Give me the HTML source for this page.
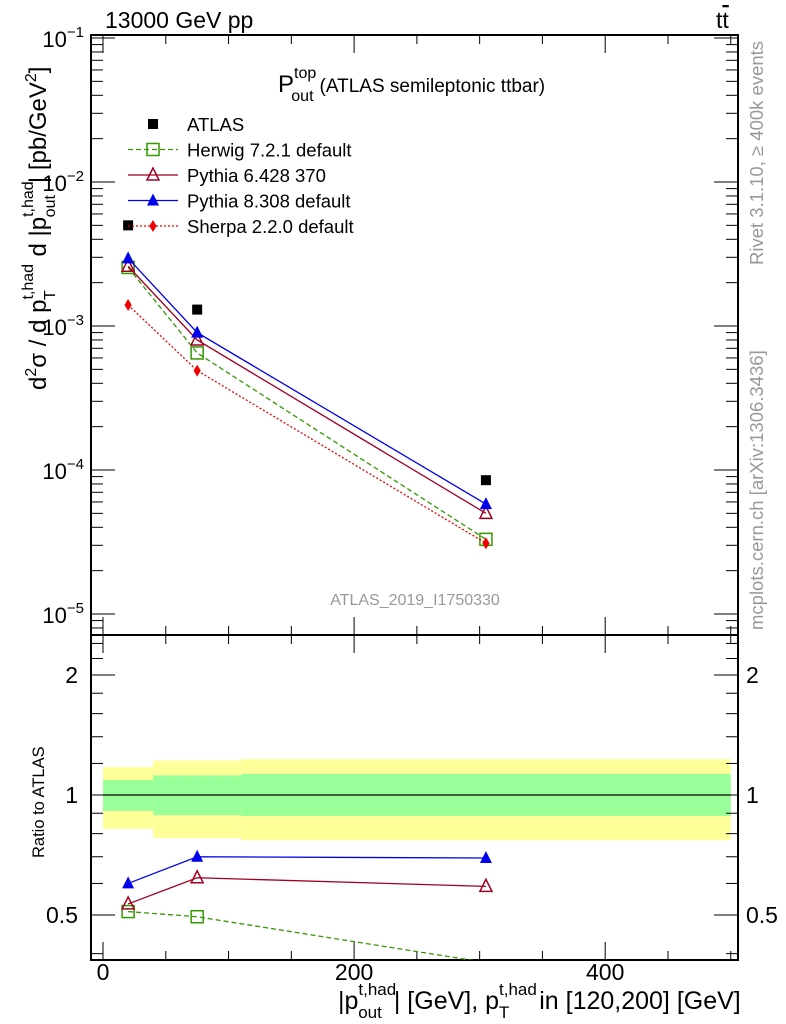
<!DOCTYPE html>
<html><head><meta charset="utf-8"><style>
body{margin:0;background:#fff;}
svg{font-family:"Liberation Sans",sans-serif;display:block}
</style></head><body>
<svg id="c" width="786" height="1024" xmlns="http://www.w3.org/2000/svg"></svg>
<script>
const binCenters=[20,75,305];
const binEdges=[0,40,110,500];
const atlas=[5.0e-3,1.3e-3,8.5e-5];
const herwig=[2.55e-3,6.5e-4,3.3e-5];
const pythia6=[2.6e-3,8.0e-4,5.0e-5];
const pythia8=[2.95e-3,9.0e-4,5.8e-5];
const sherpa=[1.4e-3,4.9e-4,3.1e-5];
const ratioHerwig=[0.51,0.495,0.38];
const ratioPythia6=[0.533,0.62,0.59];
const ratioPythia8=[0.60,0.70,0.695];
const bandYellowHi=[1.175,1.22,1.23];
const bandYellowLo=[0.822,0.78,0.77];
const bandGreenHi=[1.09,1.12,1.13];
const bandGreenLo=[0.912,0.89,0.886];
const xTicks=[0,200,400];
const yDecades=[-5,-4,-3,-2,-1];
const ratioTicks=[0.5,1,2];

const NS="http://www.w3.org/2000/svg";
const svg=document.getElementById('c');
const L=91,R=738,T=35,M=635,B=960;
const X=v=>103+v*1.2555;
const Y=v=>38-(Math.log10(v)+1)*144;
const YR=v=>795-Math.log2(v)*120;
function el(tag,a,parent){const e=document.createElementNS(NS,tag);for(const k in a)e.setAttribute(k,a[k]);(parent||svg).appendChild(e);return e;}
function txt(x,y,s,size,extra){const t=el('text',Object.assign({x:x,y:y,'font-size':size},extra||{}));t.innerHTML=s;return t;}

for(let i=0;i<3;i++){
 let r=el('rect',{x:X(binEdges[i]),y:YR(bandYellowHi[i]),width:X(binEdges[i+1])-X(binEdges[i]),height:YR(bandYellowLo[i])-YR(bandYellowHi[i]),fill:'#ffff99'});
 
 
 let g=el('rect',{x:X(binEdges[i]),y:YR(bandGreenHi[i]),width:X(binEdges[i+1])-X(binEdges[i]),height:YR(bandGreenLo[i])-YR(bandGreenHi[i]),fill:'#99ff99'});
 
 
}
el('line',{x1:X(0),x2:X(500),y1:YR(1),y2:YR(1),stroke:'#000','stroke-width':1.3});

el('rect',{x:L,y:T,width:R-L,height:M-T,fill:'none',stroke:'#000','stroke-width':2});
el('rect',{x:L,y:M,width:R-L,height:B-M,fill:'none',stroke:'#000','stroke-width':2});

for(let v=0;v<=500;v+=50){
 const big=v%200===0; const len=big?18:9;
 for(const [a,b] of [[T,1],[M,-1],[M,1],[B,-1]]){
  el('line',{x1:X(v),x2:X(v),y1:a,y2:a+b*len,stroke:'#000','stroke-width':1});
 }
}
xTicks.forEach(v=>{const t=txt(X(v),980,v,23,{'text-anchor':'middle'});
 
 });

yDecades.forEach(d=>{
 for(let m=1;m<10;m++){
  const v=m*Math.pow(10,d); if(v>0.1001)break;
  const y=Y(v); if(y>M||y<T)continue;
  const len=m===1?24:12;
  el('line',{x1:L,x2:L+len,y1:y,y2:y,stroke:'#000'});
  el('line',{x1:R,x2:R-len,y1:y,y2:y,stroke:'#000'});
 }
 const t=el('text',{x:84,y:Y(Math.pow(10,d))+9,'font-size':22,'text-anchor':'end'});
 t.innerHTML='10<tspan dy="-10" font-size="15">&#8722;'+(-d)+'</tspan>';
 
 
});
for(let m=6;m<10;m++){const y=Y(m*1e-6); if(y<M){el('line',{x1:L,x2:L+12,y1:y,y2:y,stroke:'#000'});el('line',{x1:R,x2:R-12,y1:y,y2:y,stroke:'#000'});}}

[0.4,0.5,0.6,0.7,0.8,0.9,1,1.2,1.4,1.6,1.8,2,2.2,2.4].forEach(v=>{
 const y=YR(v); const len=(v===0.5||v===1||v===2)?24:12;
 el('line',{x1:L,x2:L+len,y1:y,y2:y,stroke:'#000'});
 el('line',{x1:R,x2:R-len,y1:y,y2:y,stroke:'#000'});
});
ratioTicks.forEach(v=>{
 let t=txt(78,YR(v)+8,v,23,{'text-anchor':'end'});
 
 
 let t2=txt(746,YR(v)+8,v,23);
 
 
});

function marker(type,x,y,color,size){
 if(type==='sq') return el('rect',{x:x-size,y:y-size,width:2*size,height:2*size,fill:color});
 if(type==='osq') return el('rect',{x:x-size,y:y-size,width:2*size,height:2*size,fill:'none',stroke:color,'stroke-width':1.5});
 if(type==='tri') return el('polygon',{points:`${x},${y-size-1} ${x-size},${y+size-1} ${x+size},${y+size-1}`,fill:color});
 if(type==='otri') return el('polygon',{points:`${x},${y-size-1} ${x-size},${y+size-1} ${x+size},${y+size-1}`,fill:'none',stroke:color,'stroke-width':1.5});
 if(type==='dia') return el('polygon',{points:`${x},${y-size} ${x-size*0.6},${y} ${x},${y+size} ${x+size*0.6},${y}`,fill:color});
}
function series(name,vals,yf,color,dash,mk){
 const g=el('g',{});
 
 
 const pts=binCenters.map((c,i)=>[X(c),yf(vals[i])]);
 el('polyline',{points:pts.map(p=>p.join(',')).join(' '),fill:'none',stroke:color,'stroke-width':1.3,'stroke-dasharray':dash},g);
 pts.forEach(p=>{ if(p[1]<B-2){const m=marker(mk,p[0],p[1],color,6); g.appendChild(m);} });
 return g;
}
const cp=el('clipPath',{id:'rc'});el('rect',{x:L,y:M,width:R-L,height:B-M},cp);
series('herwig-line',herwig,Y,'#339900','5,3','osq');
series('pythia6-line',pythia6,Y,'#a00020','','otri');
series('pythia8-line',pythia8,Y,'#0000ee','','tri');
series('sherpa-line',sherpa,Y,'#ee0000','2,2','dia');
const ga=el('g',{});
binCenters.forEach((c,i)=>ga.appendChild(marker('sq',X(c),Y(atlas[i]),'#000',5)));
let rh=series('ratio-herwig',ratioHerwig,YR,'#339900','5,3','osq');rh.setAttribute('clip-path','url(#rc)');
series('ratio-pythia6',ratioPythia6,YR,'#a00020','','otri');
series('ratio-pythia8',ratioPythia8,YR,'#0000ee','','tri');

const leg=[['ATLAS','#000','','sq'],['Herwig 7.2.1 default','#339900','5,3','osq'],['Pythia 6.428 370','#a00020','','otri'],['Pythia 8.308 default','#0000ee','','tri'],['Sherpa 2.2.0 default','#ee0000','2,2','dia']];
leg.forEach((l,i)=>{
 const y=124+i*25.5;
 const g=el('g',{});
 
 
 if(i>0) el('line',{x1:128,x2:178,y1:y,y2:y,stroke:l[1],'stroke-width':1.3,'stroke-dasharray':l[2]},g);
 g.appendChild(marker(l[3],153,y,l[1],l[3]==='sq'?5:6));
 const t=txt(187,y+7,l[0],18.5); g.appendChild(t);
});

let t;
t=txt(105,28,'13000 GeV pp',23);
t=txt(716,28,'t<tspan text-decoration="overline">t</tspan>',23);
t=el('text',{x:278,y:92,'font-size':24});t.innerHTML='P<tspan font-size="16" dy="-14">top</tspan><tspan font-size="16" dy="23" dx="-25">out</tspan><tspan font-size="19" dy="-9" dx="6">(ATLAS semileptonic ttbar)</tspan>';

t=txt(415,605,'ATLAS_2019_I1750330',16,{'text-anchor':'middle',fill:'#999'});
t=txt(0,0,'Rivet 3.1.10, &#8805; 400k events',18.5,{fill:'#999',transform:'translate(763,265) rotate(-90)'});
t=txt(0,0,'mcplots.cern.ch [arXiv:1306.3436]',18.5,{fill:'#999',transform:'translate(763,630) rotate(-90)'});
t=el('text',{'font-size':24,transform:'translate(46,390) rotate(-90)'});
t.innerHTML='d<tspan dy="-10" font-size="16">2</tspan><tspan dy="10">&#963; / d p</tspan><tspan dy="-13" font-size="16">t,had</tspan><tspan dy="22" dx="-36" font-size="16">T</tspan><tspan dy="-9" dx="27"> d |p</tspan><tspan dy="-13" font-size="16">t,had</tspan><tspan dy="22" dx="-36" font-size="16">out</tspan><tspan dy="-9" dx="12">| [pb/GeV</tspan><tspan dy="-10" font-size="16">2</tspan><tspan dy="10">]</tspan>';

t=txt(0,0,'Ratio to ATLAS',16.5,{transform:'translate(44,858) rotate(-90)'});
t=el('text',{x:338,y:1009,'font-size':25});
t.innerHTML='|p<tspan dy="-14" font-size="17">t,had</tspan><tspan dy="23" dx="-38" font-size="17">out</tspan><tspan dy="-9" dx="12">| [GeV], p</tspan><tspan dy="-14" font-size="17">t,had</tspan><tspan dy="23" dx="-38" font-size="17">T</tspan><tspan dy="-9" dx="30">in [120,200] [GeV]</tspan>';

</script>
</body></html>
